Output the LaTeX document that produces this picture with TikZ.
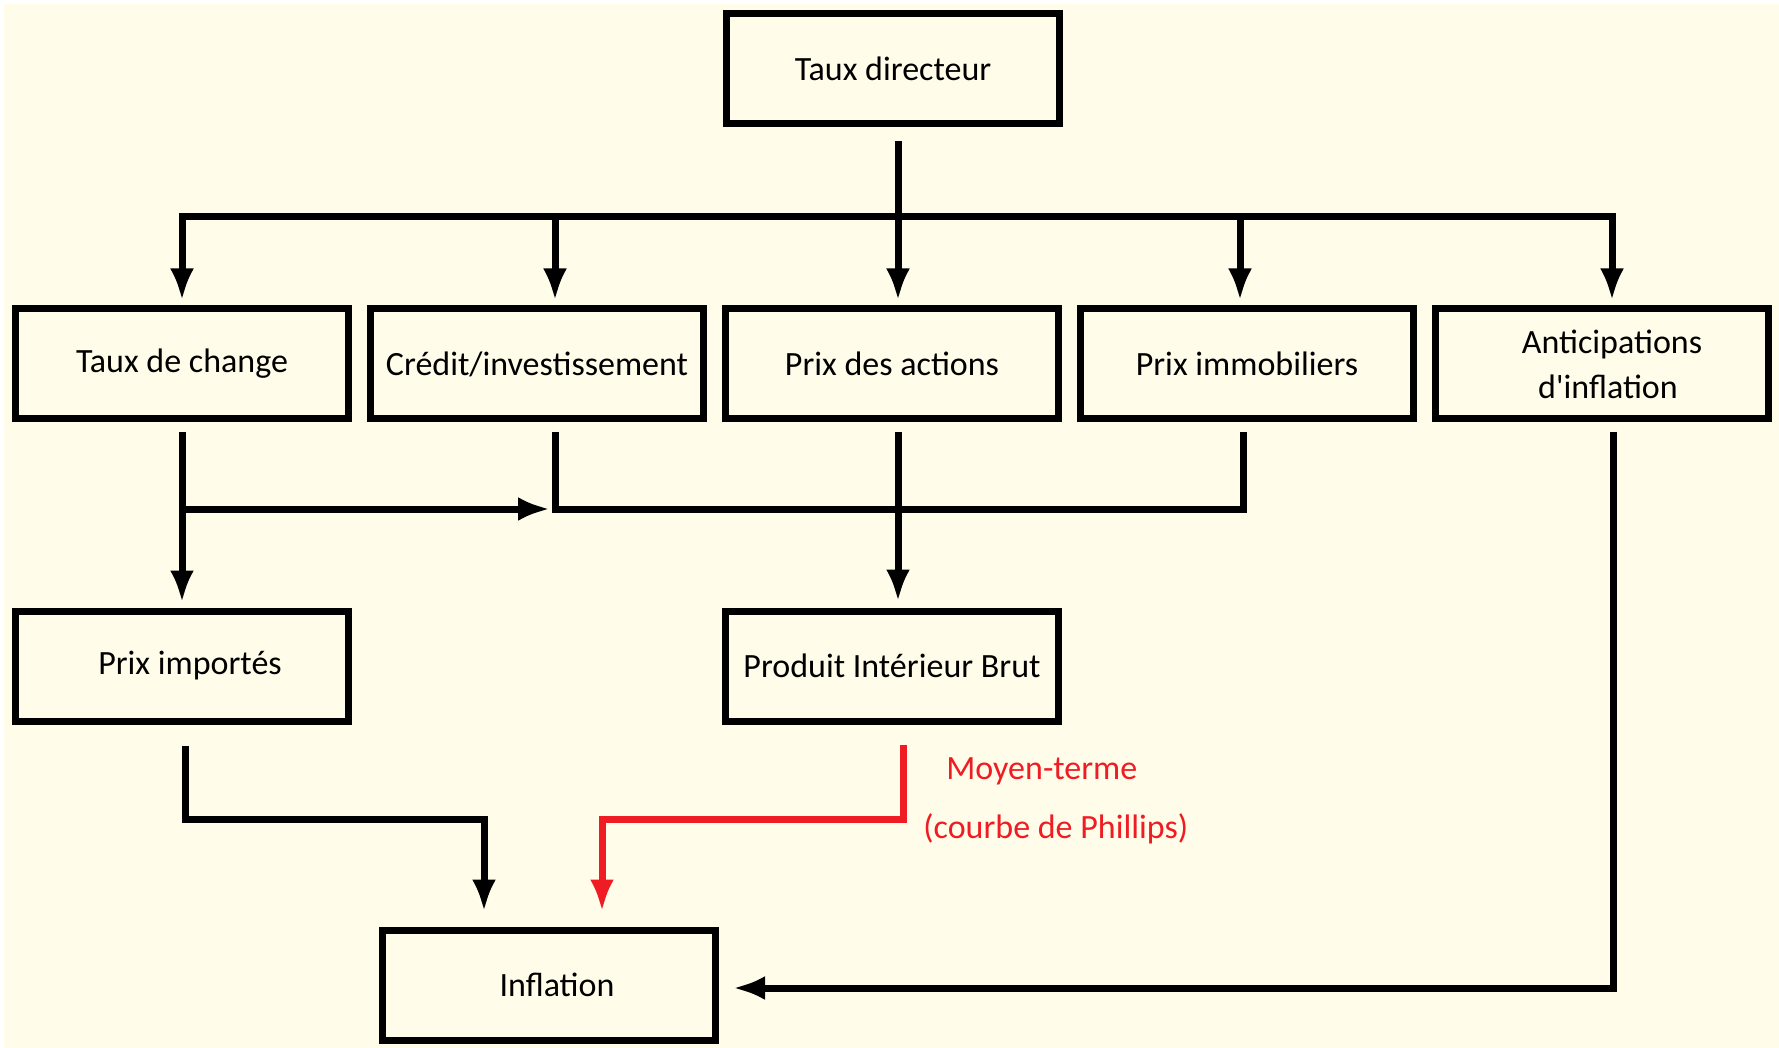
\documentclass[tikz,border=0pt]{standalone}
\usepackage{fontspec}
\setmainfont{Carlito}[Ligatures=TeXOff]
\usetikzlibrary{positioning,arrows.meta}
\definecolor{creme}{RGB}{255,253,233}
\definecolor{rouge}{RGB}{240,28,36}

\begin{document}
\begin{tikzpicture}[x=0.5pt,y=-0.5pt,node distance=7.5pt,
  box/.style={draw,line width=3.5pt,minimum width=166.5pt,minimum height=55pt,
    inner sep=0pt,align=center,font=\fontsize{17pt}{22.5pt}\selectfont},
  lbl/.style={text=rouge,inner sep=0pt,anchor=west,font=\fontsize{17pt}{22.5pt}\selectfont},
  wire/.style={line width=3.5pt},
  wirearr/.style={wire,-{Latex[length=16pt,width=12pt]}}]

  \fill[white] (0,0) rectangle (1779,1048);
  \fill[creme] (4,4) rectangle (1779,1048);
  \useasboundingbox (0,0) rectangle (1779,1048);

  \node[box] (td)                       at (893,69) {Taux directeur};
  \node[box] (change)                   at (182,364) {Taux de change};
  \node[box] (credit)  [right=of change]  {Crédit/investissement};
  \node[box] (actions) [right=of credit]  {Prix des actions};
  \node[box] (immo)    [right=of actions] {Prix immobiliers};
  \node[box] (antic)   [right=of immo]    {\hspace*{10pt}Anticipations\\\hspace*{6pt}d'inflation};
  \node[box] (imp)     [below=92.5pt of change]  {\hspace*{8pt}Prix importés};
  \node[box] (pib)     [below=92.5pt of actions] {Produit Intérieur Brut};
  \node[box] (infl)                     at (549,985) {\hspace*{8pt}Inflation};

  \node[lbl] (mt) at (946,771) {Moyen-terme};
  \node[lbl] (cp) at (923,829) {(courbe de Phillips)};

  % repartition du taux directeur
  \coordinate (tdout) at ([xshift=2.5pt,yshift=-7pt]td.south);
  \coordinate (split) at (tdout |- 0,217);
  \draw[wirearr,shorten >=2.5pt] (tdout) -- (tdout |- actions.north);
  \foreach \x/\n in {182/change,555/credit,1240/immo,1612/antic}
    \draw[wirearr,shorten >=2.5pt] (split) -| (\x,217 |- \n.north);

  % canaux de transmission
  \coordinate (merge) at (555,509);
  \coordinate (cr) at ([yshift=-4.5pt]merge |- credit.south);
  \coordinate (im) at ([yshift=-4.5pt]1243,0 |- immo.south);
  \draw[wirearr] ([yshift=-4.5pt]change.south) -- ([yshift=2.5pt]imp.north);
  \draw[wirearr] (change.south |- merge) -- ([xshift=-2.5pt]merge);
  \draw[wire] (cr) -- (merge) -| (im);
  \draw[wirearr,shorten >=3pt] ([yshift=-4.5pt]tdout |- actions.south) -- (tdout |- pib.north);

  % vers l'inflation
  \coordinate (kimp) at (484,819);
  \coordinate (kpib) at (602,819);
  \draw[wirearr] ([xshift=1.5pt,yshift=-10.5pt]imp.south) |- (kimp) -- ([yshift=7.5pt]kimp |- infl.north);
  \draw[wirearr,rouge] ([xshift=5.5pt,yshift=-10pt]pib.south) |- (kpib) -- ([yshift=7.5pt]kpib |- infl.north);
  \draw[wirearr] ([xshift=5.8pt,yshift=-4.5pt]antic.south) |- ([xshift=7pt,yshift=-1.5pt]infl.east);
\end{tikzpicture}
\end{document}
